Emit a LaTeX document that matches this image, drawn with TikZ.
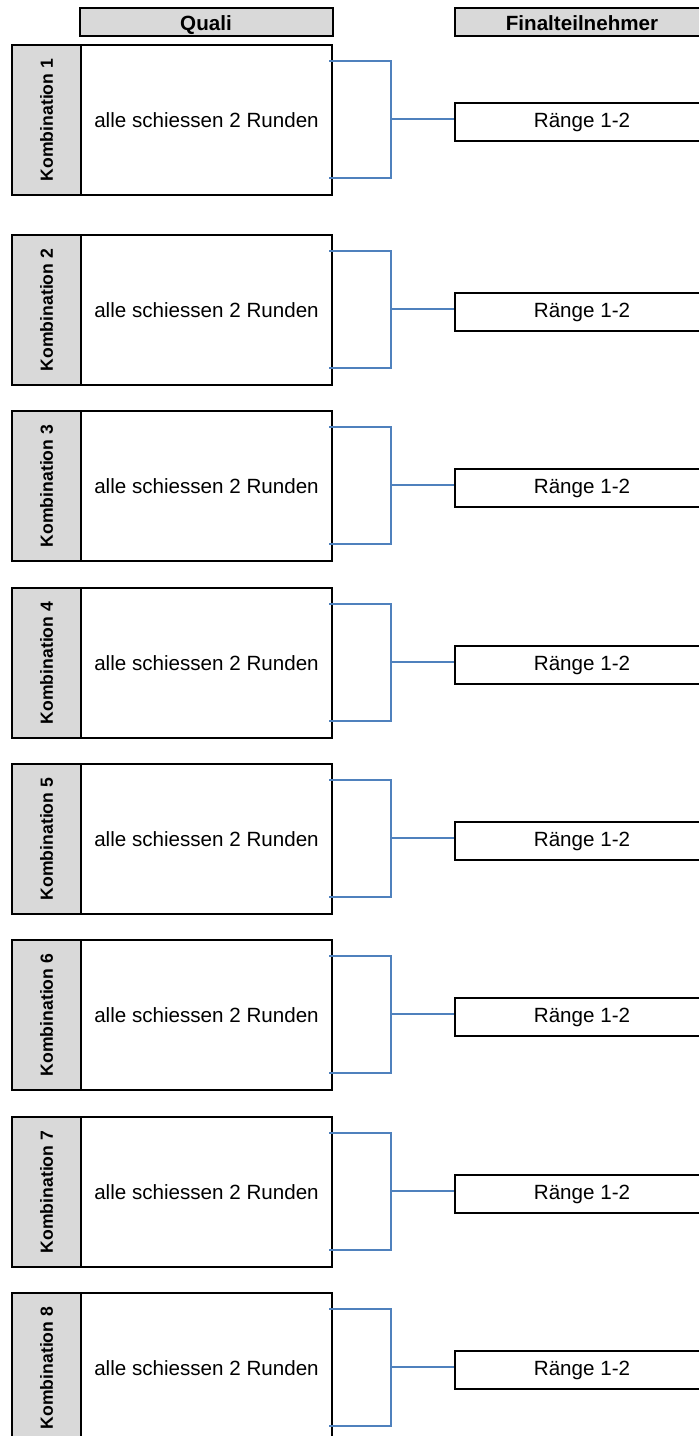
\documentclass[tikz,border=0pt]{standalone}
\usepackage{fontspec}
\setmainfont{Liberation Sans}
\usetikzlibrary{calc}

\definecolor{cellgrey}{RGB}{217,217,217}
\definecolor{linkblue}{RGB}{79,129,189}

\tikzset{
	headbox/.style={draw, line width=1pt, fill=cellgrey, inner sep=0pt, minimum height=14pt, text height=0.9em, text depth=0em, font=\bfseries\fontsize{10.3}{12}\selectfont},
	kombbox/.style={draw, line width=1pt, fill=cellgrey, inner sep=0pt, rotate=90, minimum width=75pt, minimum height=34.5pt, font=\bfseries\fontsize{8.8}{10}\selectfont},
	qualibox/.style={draw, line width=1pt, inner sep=0pt, minimum width=125.5pt, minimum height=75pt, font=\fontsize{10.3}{12}\selectfont},
	rangbox/.style={draw, line width=1pt, inner sep=0pt, minimum width=127pt, minimum height=19pt, font=\fontsize{10.3}{12}\selectfont},
	bracket/.style={draw=linkblue, line width=0.8pt}
}

\begin{document}
\begin{tikzpicture}[x=0.5pt,y=-0.5pt]

	\clip (0,0) rectangle (699,1436);

	%Headers
	\node [headbox, minimum width=126.5pt] (quali) at (206,21.5) {Quali};
	\node [headbox, minimum width=127pt] (finale) at (582,21.5) {Finalteilnehmer};

	%Blocks
	\foreach \i/\y in {1/45,2/235,3/411,4/588,5/764,6/940,7/1117,8/1293} {
		\node [kombbox] (k\i) at (46.5,\y+75) {Kombination \i};
		\node [qualibox] (q\i) at (206.5,\y+75) {alle schiessen 2 Runden};
		\node [rangbox] (r\i) at (582,\y+77) {Ränge 1-2};

		\coordinate (m\i) at ($(q\i.east)+(58,-1)$);
		\draw [bracket] ($(q\i.north east)+(-4,17)$) -| (m\i) |- ($(q\i.south east)+(-4,-18)$);
		\draw [bracket] (m\i) -- (m\i -| r\i.west);
	}

\end{tikzpicture}
\end{document}
